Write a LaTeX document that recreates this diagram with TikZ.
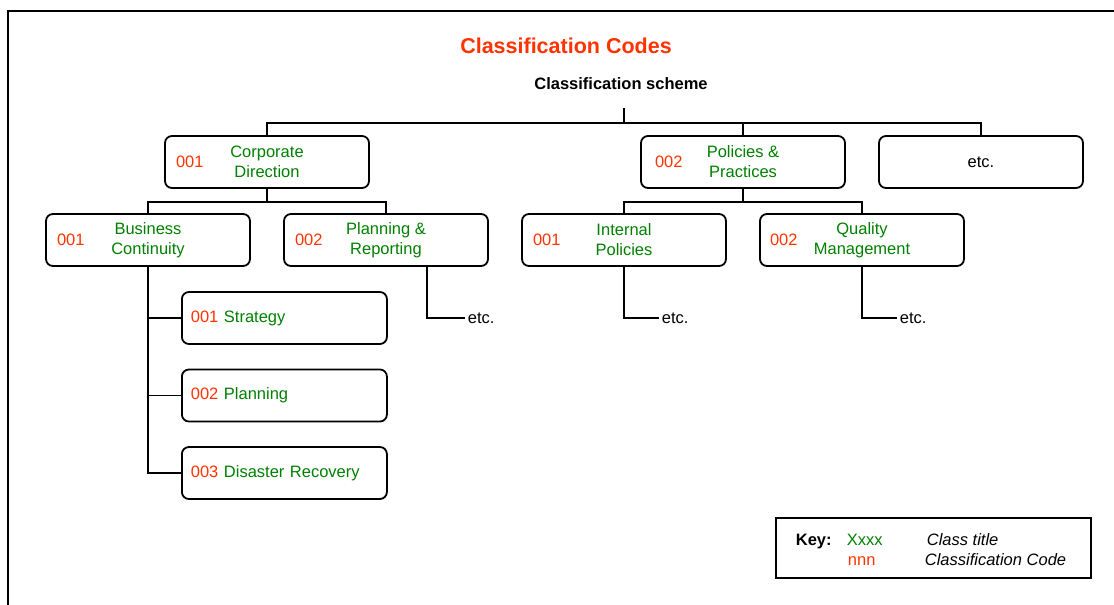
\documentclass[tikz,border=0pt]{standalone}
\usepackage{fontspec}
\setmainfont{Liberation Sans}
\usetikzlibrary{positioning}
\definecolor{codered}{RGB}{255,51,0}
\definecolor{classgreen}{RGB}{0,128,0}
\newcommand{\txt}{\fontsize{16.5}{20}\selectfont}

\begin{document}
\begin{tikzpicture}[x=1pt, y=-1pt, line width=1.8pt,
    classbox/.style={rectangle, rounded corners=7pt, draw, minimum width=204pt, minimum height=52pt, align=center, text=classgreen, font=\txt},
    leafbox/.style={classbox, align=left, text width=187pt, inner xsep=9pt, anchor=west},
    code/.style={text=codered, inner sep=0pt, anchor=west, font=\txt},
    more/.style={anchor=west, inner sep=2pt, font=\txt},
    keytext/.style={anchor=base west, inner sep=0pt, font=\txt}]
  \useasboundingbox (0,0) rectangle (1114,605);
  \draw (8,605) -- (8,11) -- (1114,11);

  \node[text=codered, font=\fontsize{21.5}{24}\selectfont\bfseries] (title) at (566,46) {Classification Codes};
  \node[font=\txt\bfseries] (scheme) at (621,84) {Classification scheme};

  % top level
  \node[classbox] (corp) at (267,162) {Corporate\\Direction};
  \node[classbox] (pol)  at (743,162) {Policies \&\\Practices};
  \node[classbox, text=black] (etc1) at (981,162) {etc.};
  \node[code, right=11pt of corp.west] (corpcode) {001};
  \node[code, right=14pt of pol.west]  (polcode)  {002};

  % second level
  \node[classbox] (bus)  at (148,240) {Business\\Continuity};
  \node[classbox] (plan) at (386,240) {Planning \&\\Reporting};
  \node[classbox] (int)  at (624,240) {Internal\\Policies};
  \node[classbox] (qual) at (862,240) {Quality\\Management};
  \node[code, right=11pt of bus.west]  (buscode)  {001};
  \node[code, right=11pt of plan.west] (plancode) {002};
  \node[code, right=11pt of int.west]  (intcode)  {001};
  \node[code, right=10pt of qual.west] (qualcode) {002};

  % third level
  \node[leafbox] (strat) at (181,318) {\textcolor{codered}{001} Strategy};
  \node[leafbox, below=23.7pt of strat] (plng) {\textcolor{codered}{002} Planning};
  \node[leafbox, below=23.7pt of plng] (dis) {\textcolor{codered}{003} Disaster Recovery};
  \node[more] (etc2) at (465,318) {etc.};
  \node[more] (etc3) at (659,318) {etc.};
  \node[more] (etc4) at (897,318) {etc.};

  % connectors
  \coordinate (top) at (624,108);
  \coordinate (split) at (624,123);
  \draw (top) -- (split);
  \draw (corp.north) |- (split) -| (etc1.north);
  \draw (split) -| (pol.north);
  \draw (corp.south) -- ++(0,13) coordinate (corpsplit);
  \draw (bus.north) |- (corpsplit) -| (plan.north);
  \draw (pol.south) -- ++(0,13) coordinate (polsplit);
  \draw (int.north) |- (polsplit) -| (qual.north);
  \draw (bus.south) |- (strat.west);
  \draw (bus.south) |- (plng.west);
  \draw (bus.south) |- (dis.west);
  \draw ([xshift=41pt]plan.south) |- (etc2.west);
  \draw (int.south) |- (etc3.west);
  \draw (qual.south) |- (etc4.west);

  % key
  \node[draw, minimum width=315pt, minimum height=60pt, inner sep=0pt] (key) at (933.5,548) {};
  \node[keytext, font=\txt\bfseries] (keylbl) at (795,545) {Key:};
  \node[keytext, text=classgreen] (keyx) at (846,545) {Xxxx};
  \node[keytext, text=codered] (keyn) at (847,565) {nnn};
  \node[keytext, font=\txt\itshape] (keyt) at (926,545) {Class title};
  \node[keytext, font=\txt\itshape] (keyc) at (924,565) {Classification Code};
\end{tikzpicture}
\end{document}
